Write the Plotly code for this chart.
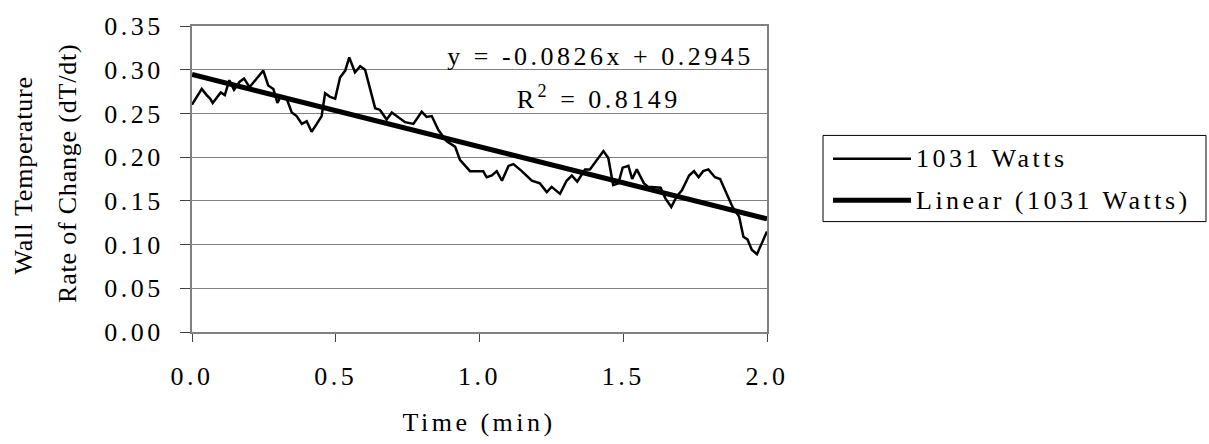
import numpy as np
import plotly.graph_objects as go

# Wall temperature rate of change, 1031 W run
time_min = [
    0.000, 0.034, 0.051, 0.063, 0.072, 0.100, 0.114, 0.130, 0.146, 0.165,
    0.181, 0.200, 0.225, 0.248, 0.265, 0.283, 0.297, 0.308, 0.329, 0.347,
    0.364, 0.382, 0.399, 0.416, 0.434, 0.451, 0.463, 0.480, 0.498, 0.515,
    0.533, 0.547, 0.567, 0.585, 0.602, 0.619, 0.637, 0.654, 0.677, 0.695,
    0.718, 0.741, 0.770, 0.799, 0.816, 0.834, 0.857, 0.886, 0.915, 0.932,
    0.967, 1.013, 1.025, 1.043, 1.060, 1.078, 1.101, 1.118, 1.147, 1.182,
    1.210, 1.234, 1.251, 1.280, 1.303, 1.321, 1.340, 1.367, 1.384, 1.408,
    1.431, 1.448, 1.465, 1.483, 1.498, 1.518, 1.531, 1.547, 1.572, 1.587,
    1.630, 1.646, 1.667, 1.686, 1.704, 1.729, 1.746, 1.762, 1.778, 1.796,
    1.819, 1.837, 1.857, 1.880, 1.903, 1.918, 1.932, 1.947, 1.965, 1.982,
    2.000,
]
dtdt = [
    0.260, 0.278, 0.271, 0.267, 0.262, 0.274, 0.271, 0.288, 0.277, 0.286,
    0.290, 0.280, 0.290, 0.299, 0.282, 0.278, 0.262, 0.269, 0.267, 0.251,
    0.247, 0.238, 0.241, 0.229, 0.238, 0.247, 0.273, 0.269, 0.267, 0.291,
    0.299, 0.314, 0.297, 0.304, 0.300, 0.278, 0.256, 0.254, 0.243, 0.251,
    0.246, 0.240, 0.238, 0.252, 0.246, 0.247, 0.231, 0.218, 0.212, 0.197,
    0.184, 0.184, 0.177, 0.179, 0.184, 0.173, 0.190, 0.192, 0.184, 0.173,
    0.170, 0.160, 0.166, 0.158, 0.173, 0.179, 0.172, 0.186, 0.186, 0.197,
    0.207, 0.199, 0.168, 0.170, 0.188, 0.190, 0.175, 0.186, 0.170, 0.166,
    0.165, 0.153, 0.143, 0.155, 0.162, 0.179, 0.184, 0.177, 0.184, 0.186,
    0.177, 0.175, 0.160, 0.143, 0.132, 0.109, 0.106, 0.094, 0.089, 0.101,
    0.115,
]

# Linear fit reported on the chart
fit_slope = -0.0826
fit_intercept = 0.2945
fit_r2 = 0.8149

series_name = "1031 Watts"
trend_name = "Linear (1031 Watts)"
x_title = "Time (min)"
y_title_lines = ["Wall Temperature", "Rate of Change (dT/dt)"]

FONT = "Liberation Serif"
FS = 26
GRID = "#808080"
W, H = 1209, 444
ML, MR, MT, MB = 192, 442, 16, 112
PW, PH = W - ML - MR, H - MT - MB

def px(xp):
    return (xp - ML) / PW

def py(yp):
    return (H - MB - yp) / PH

fit_x = np.array([0.0, 2.0])
fit_y = fit_slope * fit_x + fit_intercept

fig = go.Figure()
fig.add_trace(go.Scatter(x=time_min, y=dtdt, mode="lines", name=series_name,
                         line=dict(color="black", width=2.5), showlegend=False))
fig.add_trace(go.Scatter(x=fit_x, y=fit_y, mode="lines", name=trend_name,
                         line=dict(color="black", width=5), showlegend=False))

axis_font = dict(family=FONT, size=FS, color="black")
fig.update_xaxes(range=[0, 2], dtick=0.5, tickformat=".1f", showgrid=False,
                 showline=True, linecolor=GRID, linewidth=2, mirror=True,
                 ticks="outside", ticklen=8, tickcolor="#404040", tickwidth=1,
                 tickfont=axis_font, ticklabelstandoff=12, zeroline=False)
fig.update_yaxes(range=[0, 0.35], dtick=0.05, tickformat=".2f", showgrid=True,
                 gridcolor=GRID, gridwidth=1, showline=True, linecolor=GRID,
                 linewidth=2, mirror=True, ticks="outside", ticklen=10,
                 tickcolor="#404040", tickwidth=1, tickfont=axis_font,
                 ticklabelstandoff=11, zeroline=False)

annotations = [
    dict(text=x_title, x=px(479), y=py(425), xref="paper", yref="paper",
         xanchor="center", yanchor="middle", showarrow=False, font=axis_font),
    dict(text=y_title_lines[0], x=px(23), y=py(171), xref="paper", yref="paper",
         xanchor="center", yanchor="middle", textangle=-90, showarrow=False,
         font=axis_font),
    dict(text=y_title_lines[1], x=px(67), y=py(168), xref="paper", yref="paper",
         xanchor="center", yanchor="middle", textangle=-90, showarrow=False,
         font=axis_font),
    dict(text=f"y = {fit_slope:.4f}x + {fit_intercept:.4f}", x=px(600), y=py(48),
         xref="paper", yref="paper", xanchor="center", yanchor="middle",
         showarrow=False, font=axis_font),
    dict(text=f"R<sup>2</sup> = {fit_r2:.4f}", x=px(599), y=py(90),
         xref="paper", yref="paper", xanchor="center", yanchor="middle",
         showarrow=False, font=axis_font),
]

# Legend box drawn by hand so the sample lines can be long
shapes = [
    dict(type="rect", xref="paper", yref="paper", x0=px(823), x1=px(1206),
         y0=py(218), y1=py(129), line=dict(color="black", width=1),
         fillcolor="white", layer="above"),
]
legend_rows = [(series_name, 2.5, 153), (trend_name, 5, 196)]
for label, lw, yrow in legend_rows:
    shapes.append(dict(type="line", xref="paper", yref="paper", x0=px(833),
                       x1=px(911), y0=py(yrow), y1=py(yrow),
                       line=dict(color="black", width=lw), layer="above"))
    annotations.append(dict(text=label, x=px(914), y=py(yrow), xref="paper",
                            yref="paper", xanchor="left", yanchor="middle",
                            align="left", showarrow=False, font=axis_font))

fig.update_layout(width=W, height=H, margin=dict(l=ML, r=MR, t=MT, b=MB),
                  paper_bgcolor="white", plot_bgcolor="white",
                  annotations=annotations, shapes=shapes, showlegend=False,
                  font=dict(family=FONT, size=FS, color="black"))

# Wide letter tracking on the labels; the rotated axis title stays tight
tracking_js = """
var gd = document.getElementById('{plot_id}');
gd.querySelectorAll('text').forEach(function (t) {
    t.style.letterSpacing = '3.5px';
});
gd.querySelectorAll('g.annotation[data-index="1"] text, '
                  + 'g.annotation[data-index="2"] text').forEach(function (t) {
    t.style.letterSpacing = '0.8px';
});
"""

fig.write_html("out.html", post_script=tracking_js)
